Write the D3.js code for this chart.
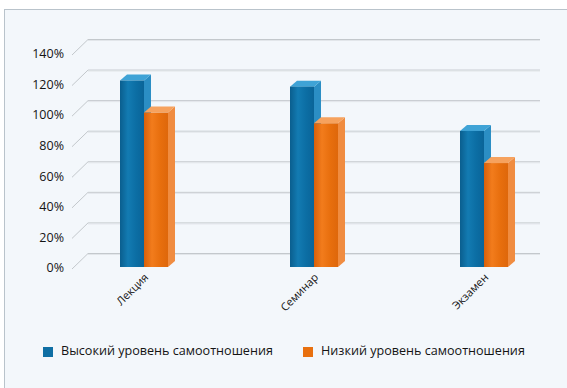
<!DOCTYPE html>
<html lang="ru">
<head>
  <meta charset="UTF-8">
  <title>Уровень самоотношения</title>
  <script src="https://d3js.org/d3.v7.min.js"></script>
  <style>
    body { margin: 0; background: #fff; }
    text { font-family: "Open Sans", "Noto Sans", sans-serif; fill: #141414; }
    .tick-label { font-size: 12.5px; }
    .cat-label { font-size: 11px; }
    .legend text { font-size: 12.6px; }
  </style>
</head>
<body>
  <svg id="chart"></svg>
  <script>
    // Data
    const categories = ["Лекция", "Семинар", "Экзамен"];
    const seriesNames = ["Высокий уровень самоотношения", "Низкий уровень самоотношения"];
    const highValues = [122, 118, 89];
    const lowValues = [101, 94, 68];
    const yTicks = [0, 20, 40, 60, 80, 100, 120, 140];

    const width = 567, height = 388;
    const svg = d3.select("#chart").attr("width", width).attr("height", height);

    // gradients for bar faces
    const defs = svg.append("defs");
    const palettes = [
      { id: "gBlue", stops: ["#0a5e8e", "#137bb2", "#0c6ea4", "#0a6498"], top: "#3fa3d6", side: "#2b8ec4" },
      { id: "gOrange", stops: ["#d8600a", "#f27c1c", "#e86f0e", "#de670b"], top: "#f6a25e", side: "#f08c40" }
    ];
    palettes.forEach(p => {
      const g = defs.append("linearGradient").attr("id", p.id).attr("x1", "0%").attr("x2", "100%");
      p.stops.forEach((c, i) => g.append("stop").attr("offset", (i / (p.stops.length - 1) * 100) + "%").attr("stop-color", c));
    });

    // panel
    svg.append("rect")
      .attr("x", 4.5).attr("y", 9.5)
      .attr("width", width).attr("height", height)
      .attr("fill", "#f3f7fb")
      .attr("stroke", "#b9c3cb");

    // scales
    const y = d3.scaleLinear().domain([0, 140]).range([267, 53]);
    const x0 = d3.scaleBand().domain(categories).range([59, 569]);
    const x1 = d3.scaleBand().domain(seriesNames).range([0, 48]);

    const wallDx = 16, wallDy = -14;   // back wall offset
    const depthX = 7, depthY = -6;     // bar depth
    const wallLeft = 72, wallRight = 540;

    // grid on the back wall + diagonal floor lines
    const grid = svg.append("g");
    yTicks.forEach(t => {
      grid.append("line")
        .attr("x1", wallLeft + wallDx).attr("x2", wallRight)
        .attr("y1", y(t) + wallDy + 0.5).attr("y2", y(t) + wallDy + 0.5)
        .attr("stroke", "#c3c8cc");
      grid.append("line")
        .attr("x1", wallLeft + wallDx).attr("x2", wallRight)
        .attr("y1", y(t) + wallDy + 1.5).attr("y2", y(t) + wallDy + 1.5)
        .attr("stroke", "#e2e6ea");
      grid.append("line")
        .attr("x1", wallLeft).attr("y1", y(t) + 2)
        .attr("x2", wallLeft + wallDx).attr("y2", y(t) + wallDy + 0.5)
        .attr("stroke", "#c3c8cc");
      svg.append("text")
        .attr("class", "tick-label")
        .attr("x", 64).attr("y", y(t) + 2)
        .attr("text-anchor", "end")
        .attr("dominant-baseline", "middle")
        .text(t + "%");
    });

    // bars
    const bars = [];
    categories.forEach((c, i) => {
      [highValues[i], lowValues[i]].forEach((v, s) => bars.push({ c, s, v }));
    });

    const bw = x1.bandwidth();
    const gx = c => x0(c) + x0.bandwidth() / 2 - 24;

    bars.forEach(d => {
      const p = palettes[d.s];
      const xl = gx(d.c) + x1(seriesNames[d.s]);
      const xr = xl + bw;
      const yt = y(d.v), yb = y(0);
      const g = svg.append("g");
      // side
      g.append("path")
        .attr("d", `M${xr},${yt}L${xr + depthX},${yt + depthY}L${xr + depthX},${yb + depthY}L${xr},${yb}Z`)
        .attr("fill", p.side);
      // top
      g.append("path")
        .attr("d", `M${xl},${yt}L${xl + depthX},${yt + depthY}L${xr + depthX},${yt + depthY}L${xr},${yt}Z`)
        .attr("fill", p.top);
      // front
      g.append("rect")
        .attr("x", xl).attr("y", yt)
        .attr("width", bw).attr("height", yb - yt)
        .attr("fill", `url(#${p.id})`);
    });

    // category labels
    categories.forEach(c => {
      const cx = x0(c) + x0.bandwidth() / 2 + 3;
      svg.append("text")
        .attr("class", "cat-label")
        .attr("transform", `translate(${cx},${y(0) + 9}) rotate(-45)`)
        .attr("text-anchor", "end")
        .attr("dominant-baseline", "middle")
        .text(c);
    });

    // legend
    const legend = svg.append("g").attr("class", "legend");
    const legendX = [43, 303];
    seriesNames.forEach((n, i) => {
      legend.append("rect")
        .attr("x", legendX[i]).attr("y", 347)
        .attr("width", 10).attr("height", 10)
        .attr("fill", i === 0 ? "#0f6fa4" : "#e8700f");
      legend.append("text")
        .attr("x", legendX[i] + 18).attr("y", 352)
        .attr("dominant-baseline", "middle")
        .text(n);
    });
  </script>
</body>
</html>
